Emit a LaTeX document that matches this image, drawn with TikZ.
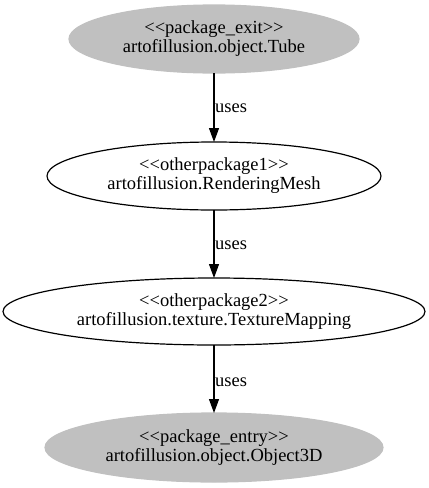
\documentclass[tikz,border=0pt]{standalone}
\usepackage{fontspec}
\setmainfont{Liberation Serif}
\usetikzlibrary{shapes.geometric,arrows.meta}
\definecolor{pkggray}{RGB}{192,192,192}
\begin{document}
\begin{tikzpicture}[x=1pt,y=-1pt,
  pkg/.style={ellipse, inner sep=0pt, outer sep=0pt, align=center,
    font=\fontsize{18.5}{19}\selectfont, line width=1.2pt},
  grayp/.style={pkg, fill=pkggray, draw=pkggray},
  whitep/.style={pkg, draw=black, fill=white},
  uses/.style={-{Triangle[length=14pt,width=10pt]}, line width=1.2pt},
  lbl/.style={anchor=west, inner sep=0pt, font=\fontsize{18.5}{19}\selectfont}]
\useasboundingbox (0,0) rectangle (429,488);
\node[grayp, minimum width=290pt, minimum height=68pt] (tube) at (214,39)
  {<{}<package\_exit>{}>\\artofillusion.object.Tube};
\node[whitep, minimum width=334pt, minimum height=68pt] (mesh) at (214,176)
  {<{}<otherpackage1>{}>\\artofillusion.RenderingMesh};
\node[whitep, minimum width=422pt, minimum height=67pt] (tex) at (214,311.5)
  {<{}<otherpackage2>{}>\\artofillusion.texture.TextureMapping};
\node[grayp, minimum width=338pt, minimum height=69pt] (obj) at (214,447.5)
  {<{}<package\_entry>{}>\\artofillusion.object.Object3D};
\draw[uses] (tube.south) -- (mesh.north);
\draw[uses] (mesh.south) -- (tex.north);
\draw[uses] (tex.south) -- (obj.north);
\node[lbl] (l1) at (215,108) {uses};
\node[lbl] (l2) at (215,245) {uses};
\node[lbl] (l3) at (215,382) {uses};
\end{tikzpicture}
\end{document}
